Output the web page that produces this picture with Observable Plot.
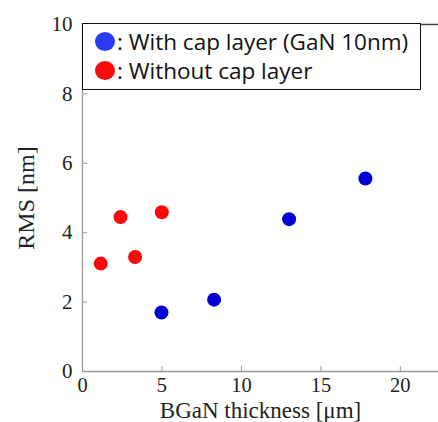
<!DOCTYPE html>
<html><head><meta charset="utf-8">
<script src="https://cdn.jsdelivr.net/npm/d3@7"></script>
<script src="https://cdn.jsdelivr.net/npm/@observablehq/plot@0.6"></script>
<style>
html,body{margin:0;padding:0;background:#fff;}
#wrap{position:relative;width:438px;height:422px;}
#legend{position:absolute;left:82px;top:23px;width:337px;height:65px;border:1.6px solid #111;background:#fff;font-family:"Open Sans",Lato,sans-serif;font-size:22.5px;color:#111;}
.row{position:absolute;left:12px;display:flex;align-items:center;white-space:nowrap;}
.sw{width:20px;height:19px;border-radius:50%;display:inline-block;margin-right:2px;}
</style></head>
<body><div id="wrap"><div id="chart"></div><div id="legend"></div></div>
<script>
const capThickness = [4.97, 8.28, 13.0, 17.8];
const capRMS = [1.70, 2.07, 4.39, 5.56];
const noCapThickness = [1.15, 2.39, 3.31, 4.99];
const noCapRMS = [3.11, 4.45, 3.30, 4.59];
const seriesNames = ["With cap layer (GaN 10nm)", "Without cap layer"];
const seriesColors = ["#0000d2", "#fa0a0a"];
const legendColors = ["#2a3cf2", "#fa0a0a"];
const xTicks = [0, 5, 10, 15, 20];
const yTicks = [0, 2, 4, 6, 8, 10];

const data = [
  ...capThickness.map((x, i) => ({x, y: capRMS[i], s: seriesNames[0]})),
  ...noCapThickness.map((x, i) => ({x, y: noCapRMS[i], s: seriesNames[1]}))
];

const serif = "'Liberation Serif','DejaVu Serif',serif";
const chart = Plot.plot({
  width: 438, height: 422,
  marginLeft: 82, marginRight: 0, marginTop: 24, marginBottom: 51,
  style: {fontFamily: serif, fontSize: "21px", color: "#222", background: "#fff"},
  x: {domain: [0, 22.4]},
  y: {domain: [0, 10]},
  color: {domain: seriesNames, range: seriesColors},
  marks: [
    Plot.ruleX([0], {stroke: "#999", strokeWidth: 1.3}),
    Plot.ruleY([0], {stroke: "#999", strokeWidth: 1.3}),
    Plot.ruleY([10], {stroke: "#444", strokeWidth: 1.3}),
    Plot.axisX({ticks: xTicks, tickSize: -5, tickPadding: 11, stroke: "#999", fontSize: 20.5, label: null}),
    Plot.axisX({ticks: [], label: "BGaN thickness [μm]", labelAnchor: "center", labelArrow: "none", labelOffset: 46, fontSize: 23}),
    Plot.axisX({anchor: "top", ticks: xTicks.slice(1), tickSize: -5, tickFormat: () => "", stroke: "#666", label: null}),
    Plot.axisY({ticks: yTicks, tickSize: -5, tickPadding: 15, stroke: "#999", fontSize: 21, label: null}),
    Plot.axisY({ticks: [], label: "RMS [nm]", labelAnchor: "center", labelArrow: "none", labelOffset: 66, fontSize: 24}),
    Plot.dot(data, {x: "x", y: "y", fill: "s", r: 7})
  ]
});
document.getElementById("chart").appendChild(chart);

const legend = document.getElementById("legend");
seriesNames.forEach((name, i) => {
  const row = document.createElement("div");
  row.className = "row";
  row.style.top = (i === 0 ? 2 : 31) + "px";
  const sw = document.createElement("span");
  sw.className = "sw";
  sw.style.background = legendColors[i];
  row.appendChild(sw);
  row.appendChild(document.createTextNode(": " + name));
  legend.appendChild(row);
});
</script></body></html>
